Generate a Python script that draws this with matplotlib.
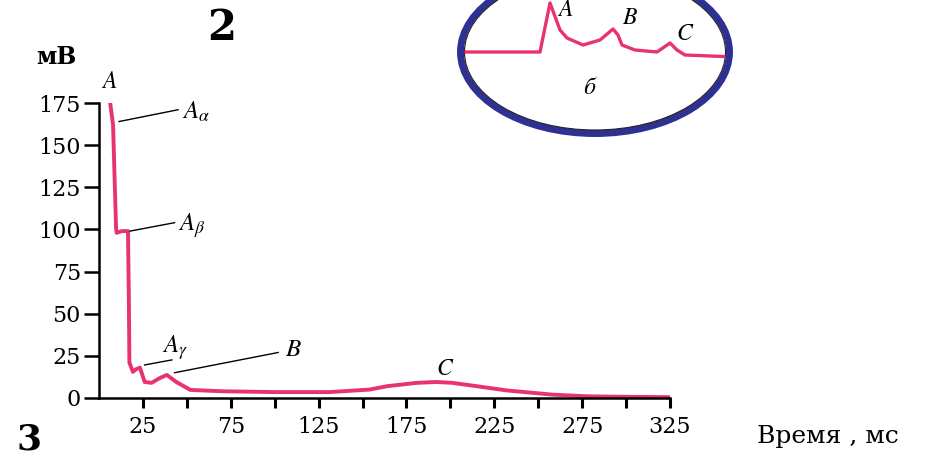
import numpy as np
import matplotlib
matplotlib.use('Agg')
import matplotlib.pyplot as plt
from matplotlib.patches import Ellipse

plt.rcParams['font.family'] = ['DejaVu Serif']
plt.rcParams['mathtext.fontset'] = 'stix'

# main trace: time (ms), potential (mV)
t_ms = [6.3, 8, 9.7, 10, 13, 16.5, 17, 17.3, 19.3, 21, 23.3, 26, 30, 34, 38.6, 44, 52, 70,
        100, 131, 154, 164, 181, 192, 201, 215, 232, 258, 278, 300, 325]
u_mv = [175.5, 162, 101, 98, 99, 99, 58, 21, 15.5, 17, 18, 9.5, 9, 11.5, 13.7, 9.5, 4.8, 4,
        3.5, 3.5, 5, 7, 9, 9.5, 9, 7, 4.5, 2, 1, 0.7, 0.5]

y_ticks = [0, 25, 50, 75, 100, 125, 150, 175]
x_major = [25, 75, 125, 175, 225, 275, 325]
x_minor = [50, 100, 150, 200, 250, 300]

# labels: text, label position, line start (on the curve), line end
notes = [
    (r'$A_{\alpha}$', (47, 170), (11.4, 164), (45, 171)),
    (r'$A_{\beta}$', (45, 102), (17.6, 99), (43, 104)),
    (r'$A_{\gamma}$', (36, 30), (26, 19.6), (41.5, 22.6)),
    (r'$B$', (106, 28.5), (43, 15), (102, 27)),
]

# inset trace (arbitrary units)
ins_x = [0, 85, 95, 105, 112, 128, 145, 158, 163, 167, 180, 202, 215, 222, 230, 280]
ins_y = [88, 88, 137, 110, 102, 95, 100, 111, 105, 95, 90, 88, 97, 90, 85, 83]

red = '#e8336e'
navy = '#2e3192'

fig = plt.figure(figsize=(9.32, 4.59), dpi=100)
ax = fig.add_axes([99/932, 61/459, 571/932, 295/459])
ax.plot(t_ms, u_mv, color=red, lw=2.8, solid_capstyle='round', solid_joinstyle='round')
ax.set_xlim(0, 325)
ax.set_ylim(0, 175)
for s in ['top', 'right']:
    ax.spines[s].set_visible(False)
for s in ['left', 'bottom']:
    ax.spines[s].set_linewidth(1.8)
ax.set_yticks(y_ticks)
ax.set_xticks(x_major)
ax.set_xticks(x_minor, minor=True)
ax.tick_params(axis='y', length=11, width=1.8, pad=2, labelsize=16)
ax.tick_params(axis='x', which='both', length=7, width=2.2, pad=6, labelsize=16)

ax.text(6, 181, r'$A$', fontsize=17, ha='center', va='bottom')
for lab, pos, p0, p1 in notes:
    ax.plot([p0[0], p1[0]], [p0[1], p1[1]], color='black', lw=1.0)
    ax.text(pos[0], pos[1], lab, fontsize=18, ha='left', va='center')
ax.text(197, 10.5, r'$C$', fontsize=17, ha='center', va='bottom')

fig.text(56/932, 1 - 57/459, 'мВ', fontsize=17, fontweight='bold', ha='center', va='center')
fig.text(222/932, 1 - 28/459, '2', fontsize=30, fontweight='bold', ha='center', va='center')
fig.text(29/932, 1 - 457/459, '3', fontsize=26, fontweight='bold', ha='center', va='bottom')
fig.text(828/932, 1 - 437/459, 'Время , мс', fontsize=18, ha='center', va='center')

# inset
ell = Ellipse((595/932, 1 - 52/459), 269/932, 163/459, transform=fig.transFigure,
              facecolor='white', edgecolor=navy, lw=5, zorder=5)
fig.add_artist(ell)
inner = Ellipse((595/932, 1 - 52/459), 261/932, 156/459, transform=fig.transFigure,
                facecolor='none', edgecolor='#222222', lw=0.8, zorder=6)
fig.add_artist(inner)
iax = fig.add_axes([455/932, 1 - 140/459, 280/932, 140/459], zorder=7)
iax.set_xlim(0, 280)
iax.set_ylim(0, 140)
iax.axis('off')
iax.patch.set_visible(False)
ln, = iax.plot(ins_x, ins_y, color=red, lw=2.4)
ln.set_clip_path(inner)
for lab, x, y in [(r'$A$', 110, 130), (r'$B$', 175, 122), (r'$C$', 230, 107), (r'$б$', 135, 52)]:
    iax.text(x, y, lab, fontsize=17, ha='center', va='center')

fig.savefig('out.png', dpi=100)
